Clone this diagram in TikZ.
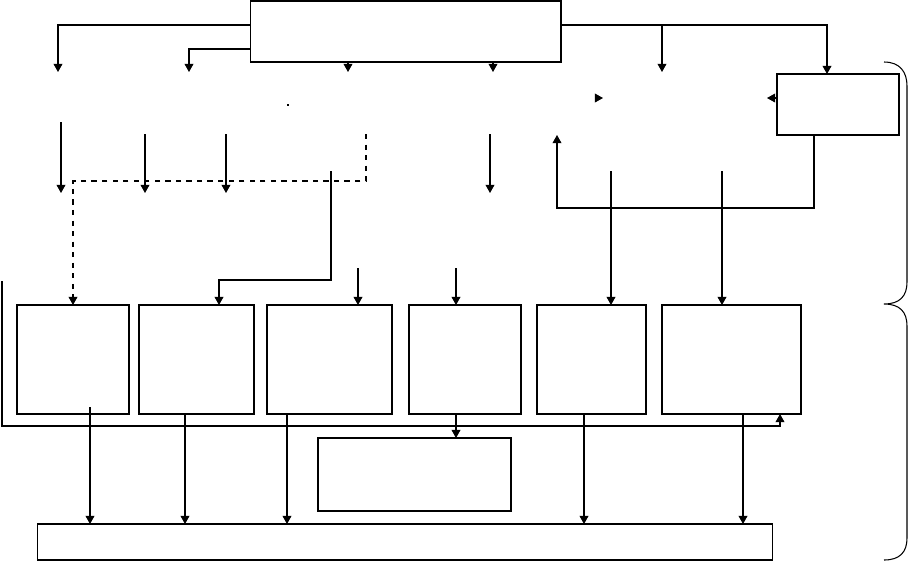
\documentclass[tikz,border=0pt]{standalone}
\usepackage{tikz}
\usetikzlibrary{arrows.meta}

\begin{document}
\begin{tikzpicture}[x=0.02cm, y=-0.02cm,
    box/.style={draw, line width=0.6pt, inner sep=0pt, outer sep=0pt},
    arr/.style={-{Triangle[width=5pt,length=4.6pt]}, line width=0.6pt},
    ln/.style={line width=0.6pt}]
    \useasboundingbox (0,0) rectangle (909,562);
    % nodes %
    \node[box, minimum width=6.22cm, minimum height=1.22cm] (top) at (405.5,31.5) {};
    \node[box, minimum width=2.44cm, minimum height=1.22cm] (side) at (838,104.5) {};
    \node[box, minimum width=2.24cm, minimum height=2.18cm] (b1) at (73,359.5) {};
    \node[box, minimum width=2.30cm, minimum height=2.18cm] (b2) at (196.5,359.5) {};
    \node[box, minimum width=2.50cm, minimum height=2.18cm] (b3) at (329.5,359.5) {};
    \node[box, minimum width=2.24cm, minimum height=2.18cm] (b4) at (465,359.5) {};
    \node[box, minimum width=2.18cm, minimum height=2.18cm] (b5) at (591.5,359.5) {};
    \node[box, minimum width=2.78cm, minimum height=2.18cm] (b6) at (731.5,359.5) {};
    \node[box, minimum width=3.86cm, minimum height=1.46cm] (mid) at (414.5,474.5) {};
    \node[box, minimum width=14.72cm, minimum height=0.72cm] (base) at (405,542) {};
    % free ends %
    \coordinate (t1) at (58,72);
    \coordinate (t2) at (189,72);
    \coordinate (t3) at (348,72);
    \coordinate (t4) at (493,72);
    \coordinate (t5) at (662,72);
    \coordinate (r1) at (603,98);
    \coordinate (r2) at (767,98);
    \coordinate (u1) at (61,193);
    \coordinate (u2) at (145,193);
    \coordinate (u3) at (226,193);
    \coordinate (u4) at (490,193);
    \coordinate (up) at (557,135);
    % edges %
    \draw[arr] (top.west |- 0,25) -| (t1);
    \draw[arr] (top.west |- 0,49) -| (t2);
    \draw[arr] (top.south -| t3) -- (t3);
    \draw[arr] (top.south -| t4) -- (t4);
    \draw[arr] (top.east |- 0,25) -| (side.north -| 827,0);
    \draw[arr] (t5 |- 0,25) -- (t5);
    \draw[arr] (595,98) -- (r1);
    \draw[arr] (side.west |- r2) -- (r2);
    \draw[ln] (287,105) -- (289,105);
    \draw[arr] (61,122) -- (u1);
    \draw[arr] (145,134) -- (u2);
    \draw[arr] (226,134) -- (u3);
    \draw[arr] (490,134) -- (u4);
    \draw[arr, dashed] (366,134) -- (366,181) -| (b1.north);
    \draw[arr] (side.south -| 814,0) |- (557,208) -- (up);
    \draw[arr] (331,171) -- (331,280) -| (b2.north -| 219,0);
    \draw[arr] (358,268) -- (b3.north -| 358,0);
    \draw[arr] (456,268) -- (b4.north -| 456,0);
    \draw[arr] (611,171) -- (b5.north -| 611,0);
    \draw[arr] (722,171) -- (b6.north -| 722,0);
    \draw[arr] (2,281) -- (2,426) -- (780,426) -- (b6.south -| 780,0);
    \draw[arr] (90,407) -- (base.north -| 90,0);
    \draw[arr] (b2.south -| 185,0) -- (base.north -| 185,0);
    \draw[arr] (b3.south -| 287,0) -- (base.north -| 287,0);
    \draw[arr] (b4.south -| 456,0) -- (mid.north -| 456,0);
    \draw[arr] (b5.south -| 584,0) -- (base.north -| 584,0);
    \draw[arr] (b6.south -| 743,0) -- (base.north -| 743,0);
    % brace %
    \draw[ln] (884,62) .. controls (900,62) and (907,72) .. (907,86) -- (907,282)
        .. controls (907,296) and (900,304) .. (884,304)
        .. controls (900,304) and (907,312) .. (907,326) -- (907,538)
        .. controls (907,552) and (900,560) .. (884,560);
\end{tikzpicture}
\end{document}
